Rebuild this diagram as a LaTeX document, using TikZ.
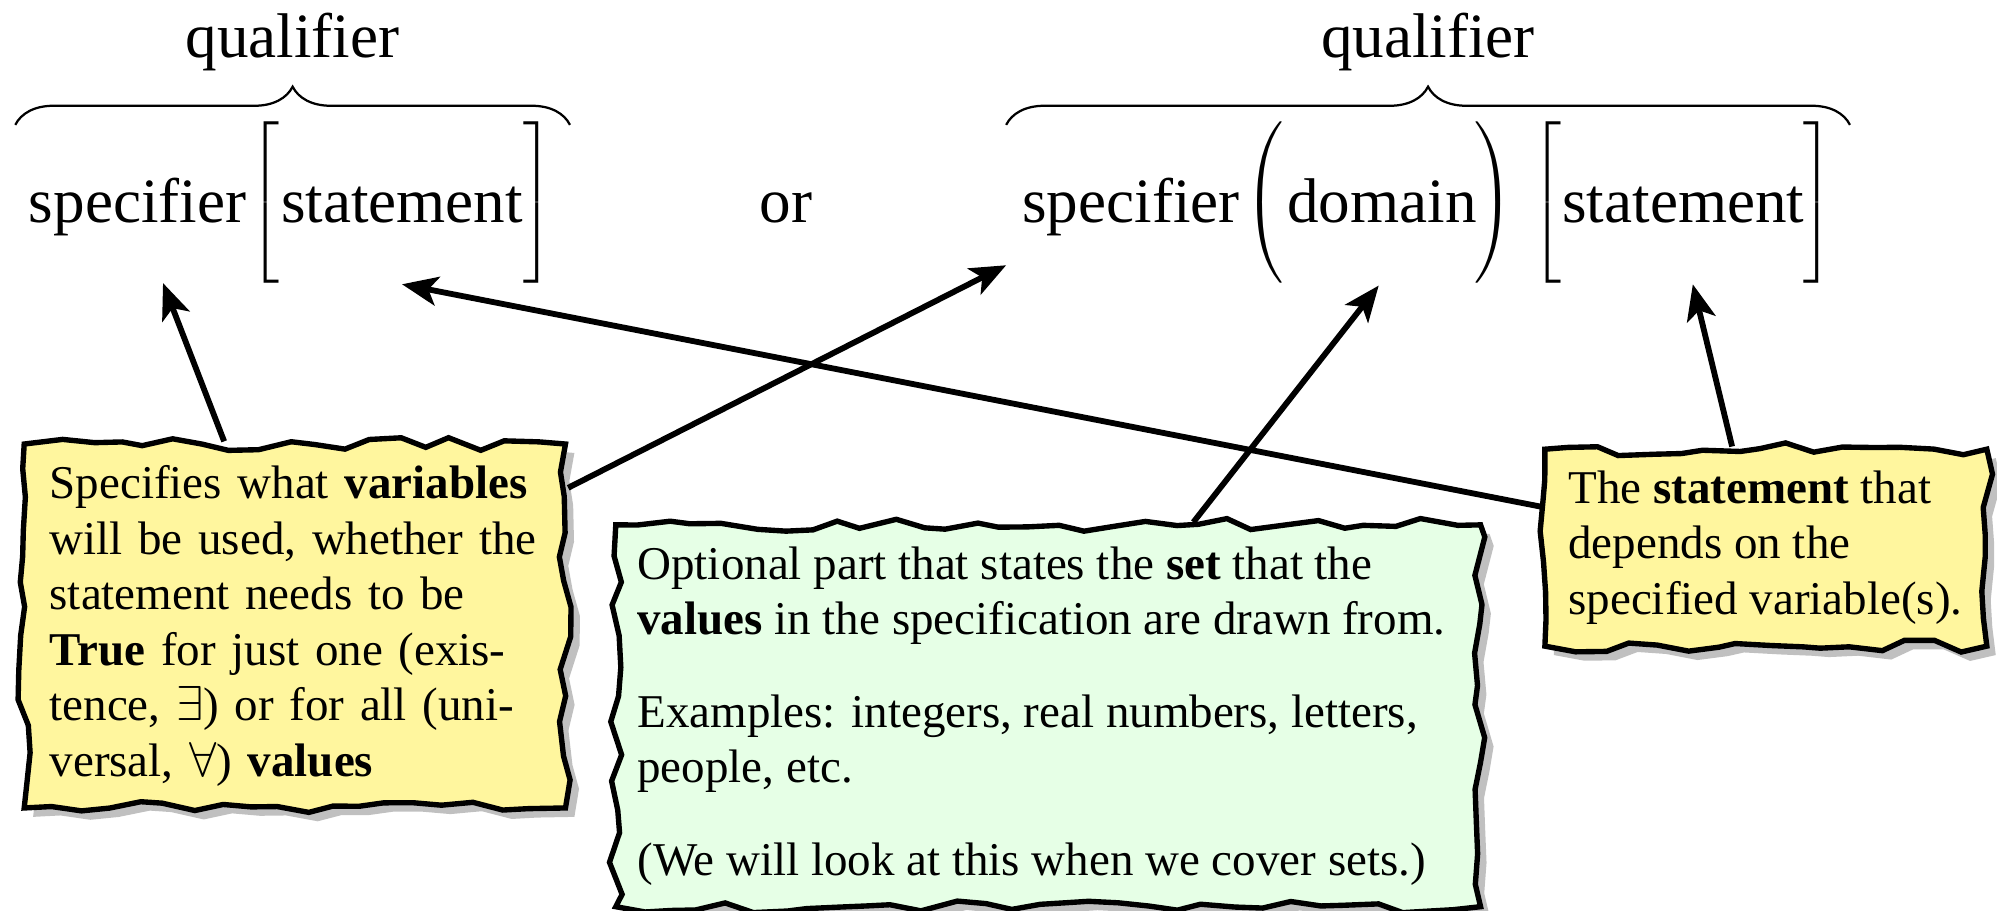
\documentclass[tikz,border=0pt]{standalone}
\usepackage{fontspec}
\setmainfont{Liberation Serif}
\usetikzlibrary{arrows.meta,positioning,decorations.pathreplacing,decorations.pathmorphing,shadows}
\definecolor{noteyellow}{RGB}{255,246,158}
\definecolor{notegreen}{RGB}{230,255,230}
\definecolor{shadowgray}{RGB}{192,192,192}
\delimiterfactor=1000 \delimitershortfall=0pt
\newcommand{\tallstrut}{\vcenter{\hrule height 1.18cm width 0pt}}

\begin{document}
\pgfmathsetseed{7}
\begin{tikzpicture}[
		arrow/.style={-{Stealth[length=8pt, width=6.5pt, inset=2pt]}, line width=1.3pt},
		formula/.style={font=\fontsize{14.1}{17}\selectfont, inner sep=0pt, anchor=base west},
		delim/.style={font=\fontsize{14.1}{17}\selectfont, inner sep=0pt},
		brace/.style={decorate, decoration={brace, amplitude=0.3cm}, line width=0.5pt},
		note/.style={draw, line width=1.2pt, decorate, decoration={random steps, segment length=0.22cm, amplitude=0.05cm},
			inner ysep=0.17cm, align=flush left, font=\fontsize{10.5}{12.4}\selectfont,
			drop shadow={shadow xshift=0.07cm, shadow yshift=-0.07cm, fill=shadowgray, opacity=1}},
	]
		\useasboundingbox (0,0) rectangle (15.68,-7.15);

		% the two forms
		\node (spec1) [formula] at (0.22,-1.75) {specifier};
		\node (lb1) [delim] at (2.10,-1.59) {$\left[\tallstrut\right.$};
		\node (stmt1) [formula] at (2.20,-1.75) {statement};
		\node (rb1) [delim] at (4.21,-1.59) {$\left.\tallstrut\right]$};
		\node (or) [formula, anchor=base] at (6.17,-1.75) {or};
		\node (spec2) [formula] at (8.02,-1.75) {specifier};
		\node (lp2) [delim] at (9.95,-1.59) {$\left(\tallstrut\right.$};
		\node (dom2) [formula] at (10.10,-1.75) {domain};
		\node (rp2) [delim] at (11.71,-1.59) {$\left.\tallstrut\right)$};
		\node (lb2) [delim] at (12.16,-1.59) {$\left[\tallstrut\right.$};
		\node (stmt2) [formula] at (12.26,-1.75) {statement};
		\node (rb2) [delim] at (14.26,-1.59) {$\left.\tallstrut\right]$};

		\draw[brace] ([xshift=-0.1cm, yshift=-0.03cm]spec1.west |- lb1.north) -- ([xshift=0.12cm, yshift=-0.03cm]rb1.east |- lb1.north)
			node[formula, anchor=base, midway, yshift=0.53cm] (qual1) {qualifier};
		\draw[brace] ([xshift=-0.12cm, yshift=-0.03cm]spec2.west |- lb2.north) -- ([xshift=0.12cm, yshift=-0.03cm]rb2.east |- lb2.north)
			node[formula, anchor=base, midway, yshift=0.53cm] (qual2) {qualifier};

		% explanations
		\node (specNote) [note, fill=noteyellow, text width=3.85cm, inner xsep=0.2cm, align=left] at (2.315,-4.915)
			{Specifies what \textbf{variables} will be used, whether the statement needs to be \textbf{True} for just one (existence, $\exists$) or for all (universal, $\forall$) \textbf{values}};
		\node (domNote) [note, fill=notegreen, text width=6.45cm, inner xsep=0.17cm] at (8.23,-5.62)
			{Optional part that states the \textbf{set} that the \textbf{values} in the specification are drawn from.\\[0.29cm]
			Examples: integers, real numbers, letters, people, etc.\\[0.29cm]
			(We will look at this when we cover sets.)};
		\node (stmtNote) [note, fill=noteyellow, text width=3.1cm, inner xsep=0.185cm] at (13.865,-4.30)
			{The \textbf{statement} that depends on the specified variable(s).};

		\draw[arrow] ([xshift=-0.555cm]specNote.north) -- ([xshift=0.2cm, yshift=-0.36cm]spec1.south);
		\draw[arrow] ([yshift=1.085cm]specNote.east) -- ([xshift=-0.12cm, yshift=-0.22cm]spec2.south west);
		\draw[arrow] ([yshift=0.32cm]stmtNote.west) -- ([yshift=-0.47cm]stmt1.south);
		\draw[arrow] ([xshift=1.14cm]domNote.north) -- ([xshift=-0.025cm, yshift=-0.48cm]dom2.south);
		\draw[arrow] ([xshift=-0.265cm]stmtNote.north) -- ([xshift=0.075cm, yshift=-0.47cm]stmt2.south);
	\end{tikzpicture}
\end{document}
